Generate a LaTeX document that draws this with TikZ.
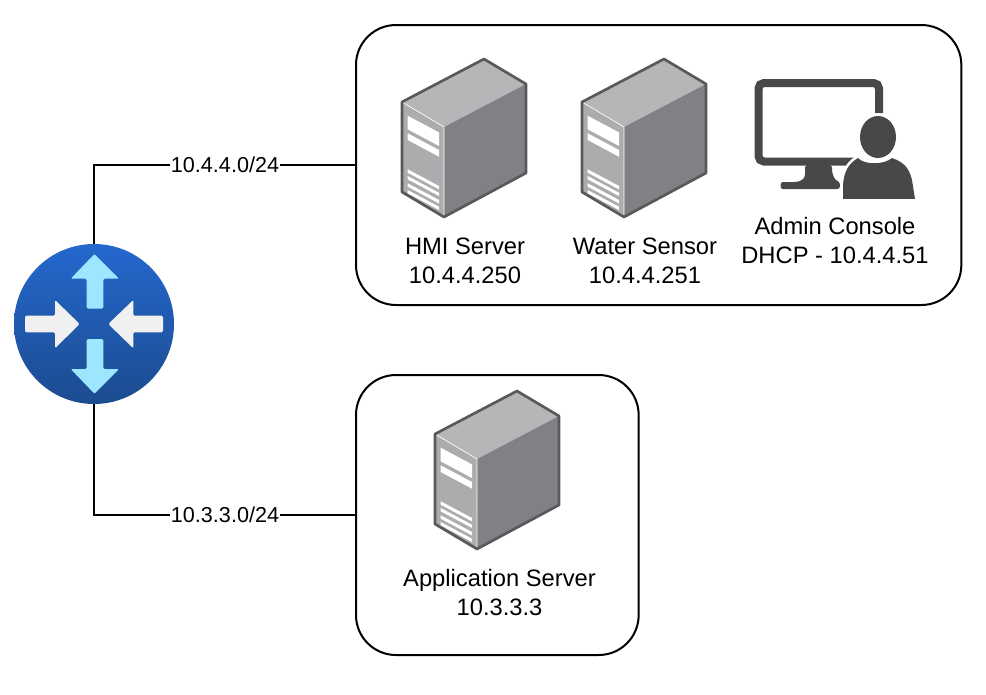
\documentclass[tikz,border=0pt]{standalone}
\usepackage{xcolor}
\usepackage{fontspec}
\setmainfont{Liberation Sans}
\usetikzlibrary{positioning, calc}

\definecolor{serverTop}{HTML}{B5B6B7}
\definecolor{serverFront}{HTML}{ABACAD}
\definecolor{serverSide}{HTML}{808184}
\definecolor{serverEdge}{HTML}{58595B}
\definecolor{consoleGray}{HTML}{484848}
\definecolor{routerTop}{HTML}{2468CE}
\definecolor{routerBottom}{HTML}{1C4B8F}
\definecolor{arrowBlue}{HTML}{9CE6FF}
\definecolor{arrowGray}{HTML}{F0F0F0}

\tikzset{
    netbox/.style={draw=black, line width=1.5pt, rounded corners=30pt, outer sep=0pt},
    hostlabel/.style={align=center, font=\fontsize{17.8}{21.75}\selectfont},
    netlabel/.style={fill=white, inner sep=0.5pt, font=\fontsize{16.2}{19}\selectfont},
    link/.style={draw=black, line width=1.5pt},
    halo/.style={preaction={draw=white, line width=4pt}},
    pics/server/.style={code={
        \fill[serverTop] (0,0) -- (82,-43) -- (124,-18) -- (42,25) -- cycle;
        \fill[serverFront] (0,0) -- (42,25) -- (42,115) -- (0,90) -- cycle;
        \fill[serverSide] (42,25) -- (124,-18) -- (124,71) -- (42,115) -- cycle;
        \draw[white, line width=0.5pt] (0,0) -- (42,25) -- (42,115);
        \draw[serverEdge, line width=2pt, line join=round]
            (42,115) -- (0,90) -- (0,0) -- (82,-43) -- (124,-18) -- (124,71) -- cycle;
        \fill[white] (5.7,13.7) -- (37,30.4) -- (37,44) -- (5.7,27.3) -- cycle;
        \fill[white] (5.7,31.3) -- (37,48) -- (37,54.7) -- (5.7,38) -- cycle;
        \foreach \top/\bot in {67.3/70.7, 74/77.3, 81.3/84.7, 88/91.3} {
            \fill[white] (5.7,\top) -- (37,\top+16.7) -- (37,\bot+16.7) -- (5.7,\bot) -- cycle;
        }
    }}
}

\begin{document}
\begin{tikzpicture}[x=0.75pt, y=-0.75pt]
    \useasboundingbox (0,0) rectangle (986,694);

    % boxes
    \node[netbox, minimum width=454pt, minimum height=210pt, anchor=north west] (plcnet) at (356,25) {};
    \node[netbox, minimum width=212pt, minimum height=210pt, anchor=north west] (appnet) at (356,375) {};

    % router
    \node[circle, minimum size=120pt, inner sep=0pt, shading=axis, top color=routerTop, bottom color=routerBottom] (router) at (94,324) {};
    \fill[arrowBlue, rounded corners=1pt] (94.5,254) -- (119,278.7) -- (103.3,278.7) -- (103.3,308.7) -- (86.7,308.7) -- (86.7,278.7) -- (70.7,278.7) -- cycle;
    \fill[arrowBlue, rounded corners=1pt] (94.5,393.7) -- (119,369) -- (103.3,369) -- (103.3,339) -- (86.7,339) -- (86.7,369) -- (70.7,369) -- cycle;
    \fill[arrowGray, rounded corners=1pt] (79.7,324) -- (55,300) -- (55,315.7) -- (25,315.7) -- (25,332.3) -- (55,332.3) -- (55,348.3) -- cycle;
    \fill[arrowGray, rounded corners=1pt] (108.3,324) -- (133.3,300) -- (133.3,315.7) -- (163,315.7) -- (163,332.3) -- (133.3,332.3) -- (133.3,348.3) -- cycle;

    % links
    \draw[link] (router.north) |- (plcnet.west) node[netlabel, pos=0.75] (plclabel) {10.4.4.0/24};
    \draw[link] (router.south) |- (appnet.west) node[netlabel, pos=0.75] (applabel) {10.3.3.0/24};

    % servers
    \pic at (402,102) {server};
    \pic at (582,102) {server};
    \pic at (435,434) {server};

    % admin console
    \draw[consoleGray, line width=6pt, rounded corners=4pt] (879,113) -- (879,83) -- (758.5,83) -- (758.5,161.5) -- (862,161.5);
    \fill[consoleGray, rounded corners=2pt] (805,165) -- (805,172) .. controls (805,179) and (800,182) .. (792,182) -- (785,182) .. controls (780,182) and (780,189) .. (785,189) -- (840,189) -- (840,182) .. controls (835,180) and (832,176) .. (832,165) -- cycle;
    \fill[consoleGray, halo] (843,199) -- (843,185) .. controls (844,172) and (848,164) .. (858,158) .. controls (864,165) and (884,165) .. (892,158) .. controls (903,162) and (909,167) .. (912,180) -- (915,199) -- cycle;
    \fill[consoleGray, halo] (878,137) ellipse [x radius=18, y radius=21];
    \fill[white] (835,199) rectangle (925,204);

    % labels
    \node[hostlabel] (hmilabel) at (465,260.5) {HMI Server\\10.4.4.250};
    \node[hostlabel] (sensorlabel) at (645,260.5) {Water Sensor\\10.4.4.251};
    \node[hostlabel] (adminlabel) at (835,240.5) {Admin Console\\DHCP - 10.4.4.51};
    \node[hostlabel] (applicationlabel) at (499.5,592.5) {Application Server\\10.3.3.3};
\end{tikzpicture}
\end{document}
